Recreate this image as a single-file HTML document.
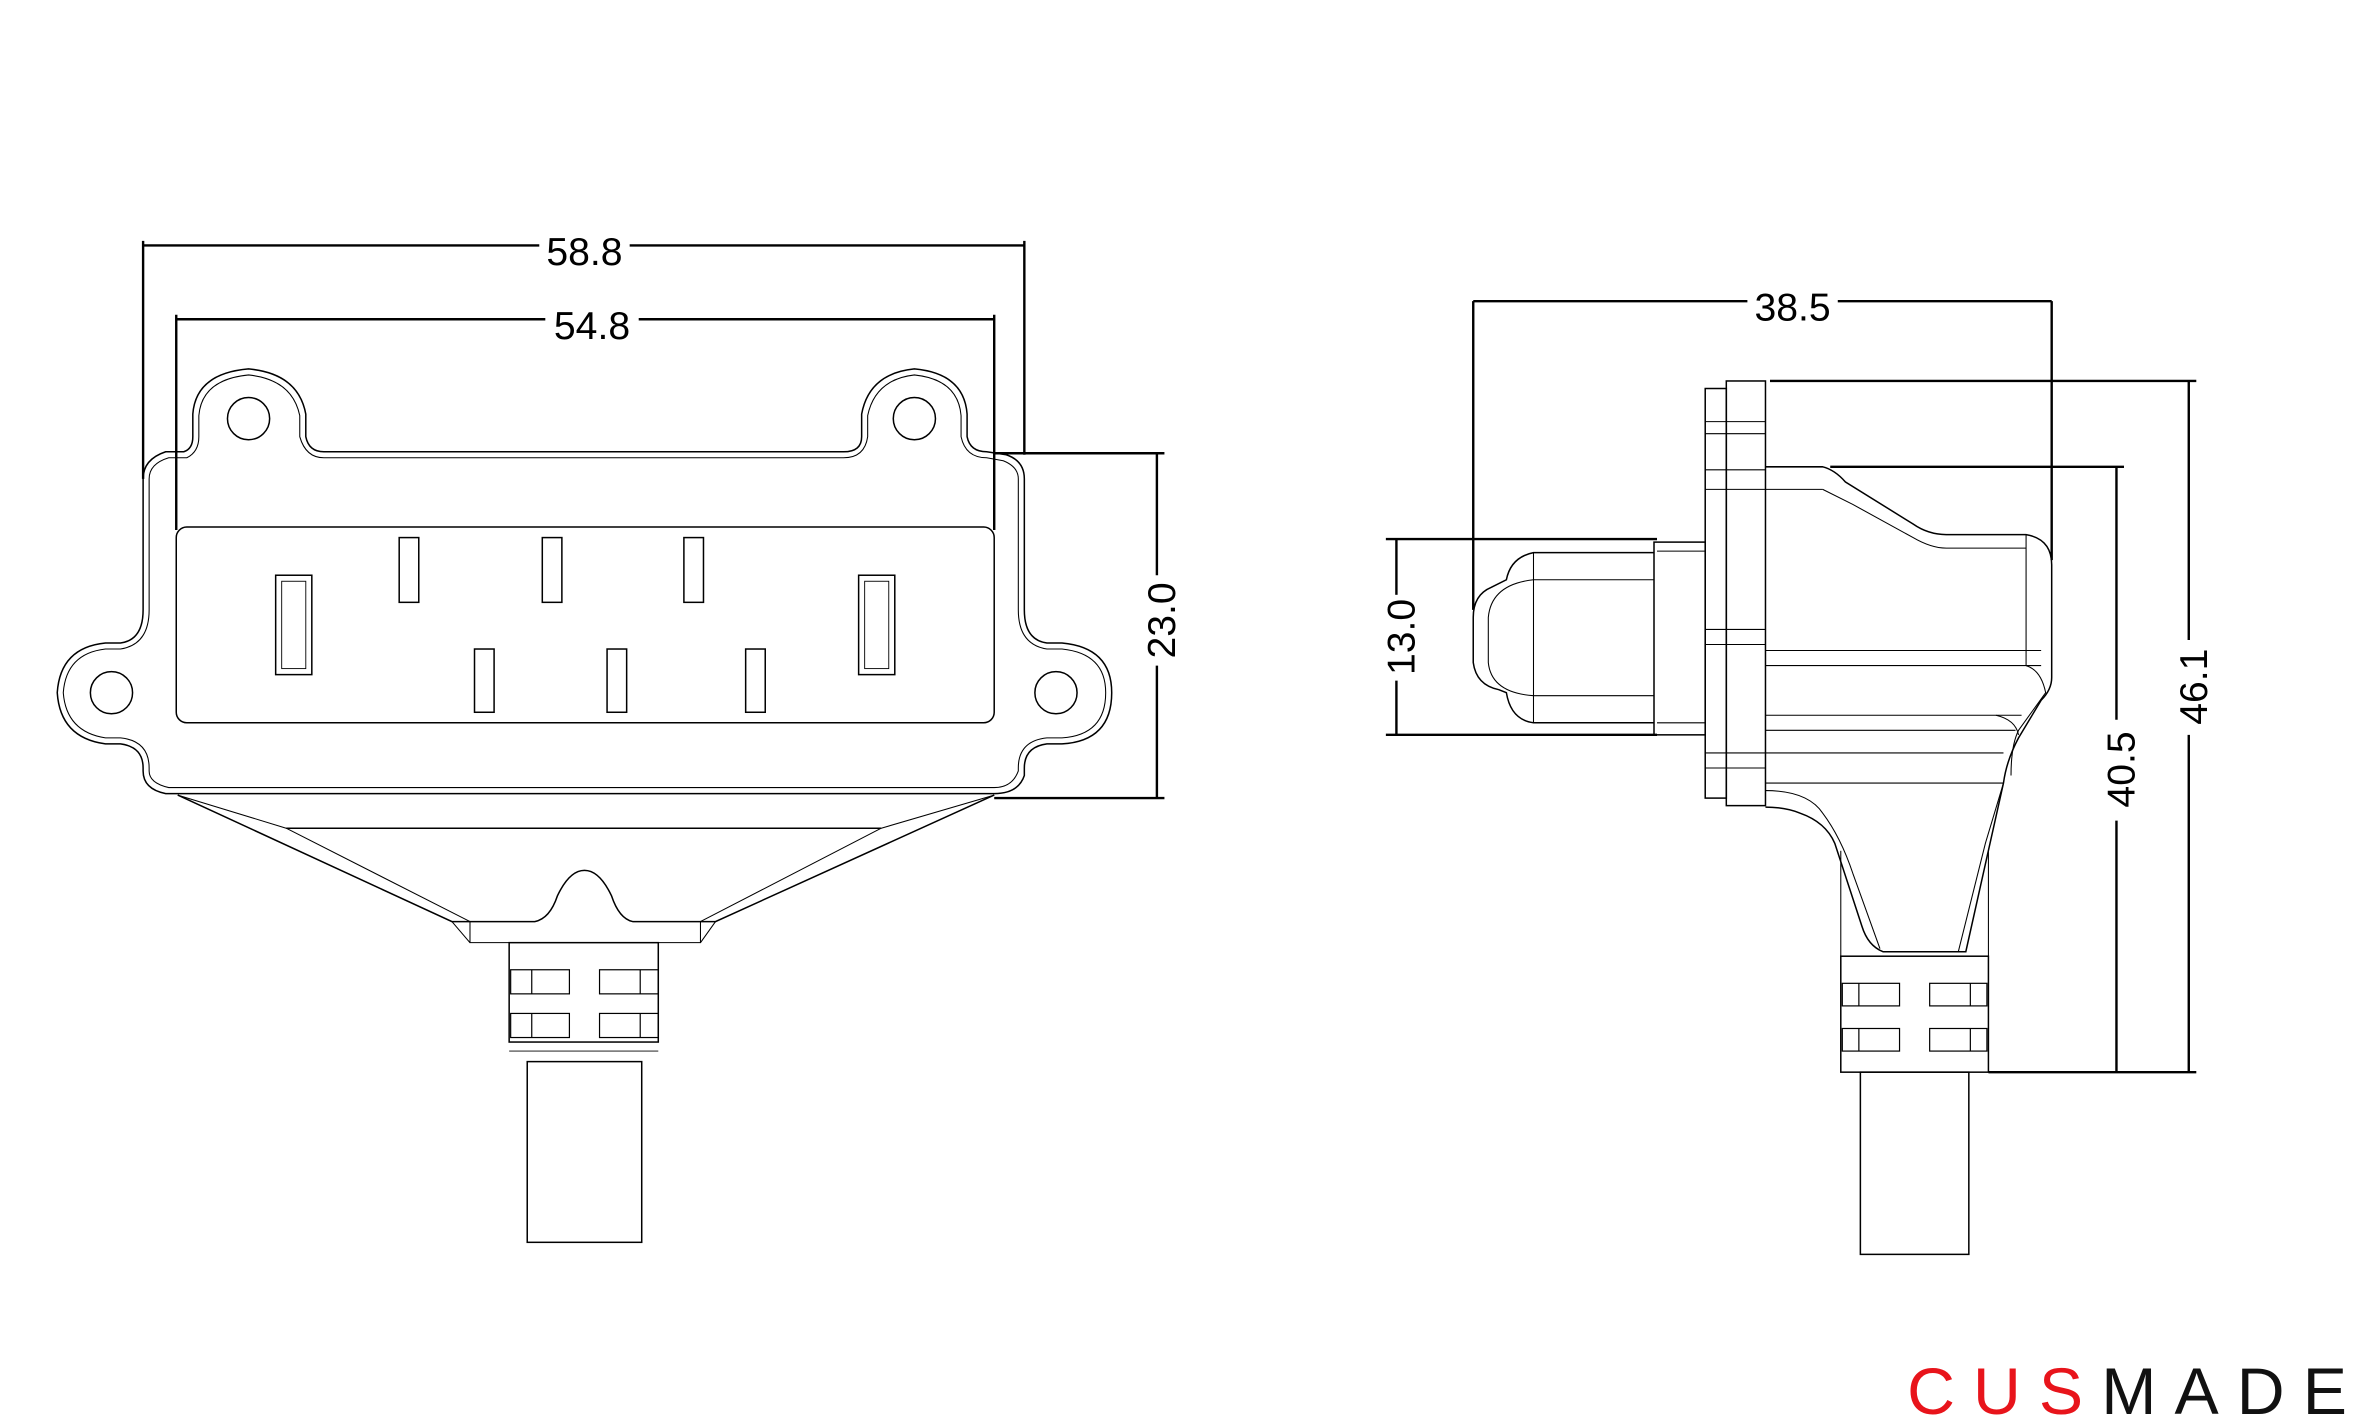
<!DOCTYPE html>
<html><head><meta charset="utf-8"><style>
html,body{margin:0;padding:0;background:#fff;}
svg{display:block}
text{font-family:"Liberation Sans",sans-serif;}
</style></head><body>
<svg width="2362" height="1417" viewBox="0 0 1568 941" preserveAspectRatio="none" xmlns="http://www.w3.org/2000/svg">
<g fill="none" stroke="#000" stroke-width="1">
<g stroke-width="1.6">
<line x1="95" y1="163" x2="358" y2="163"/><line x1="418" y1="163" x2="680" y2="163"/>
<line x1="95" y1="160" x2="95" y2="318"/><line x1="680" y1="160" x2="680" y2="302"/>
<line x1="117" y1="212" x2="362" y2="212"/><line x1="424" y1="212" x2="660" y2="212"/>
<line x1="117" y1="209" x2="117" y2="352"/><line x1="660" y1="209" x2="660" y2="352"/>
<line x1="768" y1="301" x2="768" y2="382"/><line x1="768" y1="442" x2="768" y2="530"/>
<line x1="660" y1="301" x2="773" y2="301"/><line x1="660" y1="530" x2="773" y2="530"/>
</g>
<path d="M95 318 Q95 305 110 300 L122 300 Q128 298 128 290 L128 275 Q130 248 165 245 Q198 248 203 275 L203 290 Q205 300 215 300 L560 300 Q572 300 572 290 L572 275 Q577 248 607 245 Q640 248 642 275 L642 290 Q644 300 655 300 L668 302 Q680 306 680 318 L680 405 Q680 425 695 427 L705 427 Q738 430 738 460 Q738 492 705 494 L695 494 Q680 496 680 510 L680 515 Q676 527 660 527 L110 527 Q95 524 95 512 L95 510 Q95 496 80 494 L70 494 Q40 490 38 460 Q40 430 70 427 L80 427 Q95 425 95 405 Z"/>
<path d="M99 318 Q99 308 112 304 L124 304 Q132 300 132 290 L132 276 Q134 252 165 249 Q194 252 199 276 L199 290 Q203 304 215 304 L560 304 Q574 304 576 290 L576 276 Q581 252 607 249 Q636 252 638 276 L638 290 Q641 304 655 304 L666 306 Q676 310 676 318 L676 405 Q676 428 695 431 L705 431 Q734 434 734 460 Q734 488 705 490 L695 490 Q676 492 676 510 L676 512 Q672 523 660 523 L112 523 Q99 520 99 512 L99 510 Q99 492 80 490 L70 490 Q44 486 42 460 Q44 434 70 431 L80 431 Q99 428 99 405 Z" stroke-width=".7"/>
<circle cx="165" cy="278" r="14"/><circle cx="607" cy="278" r="14"/>
<circle cx="74" cy="460" r="14"/><circle cx="701" cy="460" r="14"/>
<rect x="117" y="350" width="543" height="130" rx="7"/>
<g>
<rect x="183" y="382" width="24" height="66"/><rect x="187" y="386" width="16" height="58" stroke-width=".6"/>
<rect x="570" y="382" width="24" height="66"/><rect x="574" y="386" width="16" height="58" stroke-width=".6"/>
<rect x="265" y="357" width="13" height="43"/><rect x="360" y="357" width="13" height="43"/><rect x="454" y="357" width="13" height="43"/>
<rect x="315" y="431" width="13" height="42"/><rect x="403" y="431" width="13" height="42"/><rect x="495" y="431" width="13" height="42"/>
</g>
<path d="M118 528 L300 612 L355 612 Q365 610 370 595 Q378 578 388 578 Q398 578 406 595 Q411 610 420 612 L475 612 L660 528"/>
<path d="M190 550 L585 550"/>
<path d="M190 550 L312 612 M585 550 L465 612 M118 528 L190 550 M660 528 L585 550" stroke-width=".7"/>
<path d="M312 612 L312 626 L338 626 M465 612 L465 626 L437 626 M300 612 L312 626 M475 612 L465 626" stroke-width=".7"/>
<rect x="338" y="626" width="99" height="66"/>
<g stroke-width=".8">
<rect x="339" y="644" width="39" height="16"/><line x1="353" y1="644" x2="353" y2="660"/>
<rect x="398" y="644" width="39" height="16"/><line x1="425" y1="644" x2="425" y2="660"/>
<rect x="339" y="673" width="39" height="16"/><line x1="353" y1="673" x2="353" y2="689"/>
<rect x="398" y="673" width="39" height="16"/><line x1="425" y1="673" x2="425" y2="689"/>
</g>
<rect x="350" y="705" width="76" height="120"/>
<line x1="338" y1="698" x2="437" y2="698" stroke-width=".6"/>

<g stroke-width="1.6">
<line x1="978" y1="200" x2="1160" y2="200"/><line x1="1220" y1="200" x2="1362" y2="200"/>
<line x1="978" y1="200" x2="978" y2="405"/><line x1="1362" y1="200" x2="1362" y2="372"/>
<line x1="927" y1="358" x2="927" y2="395"/><line x1="927" y1="452" x2="927" y2="488"/>
<line x1="920" y1="358" x2="1100" y2="358"/><line x1="920" y1="488" x2="1100" y2="488"/>
<line x1="1405" y1="310" x2="1405" y2="478"/><line x1="1405" y1="545" x2="1405" y2="712"/>
<line x1="1453" y1="253" x2="1453" y2="425"/><line x1="1453" y1="488" x2="1453" y2="712"/>
<line x1="1175" y1="253" x2="1458" y2="253"/><line x1="1215" y1="310" x2="1410" y2="310"/>
<line x1="1320" y1="712" x2="1458" y2="712"/>
</g>
<rect x="1132" y="258" width="14" height="272"/>
<rect x="1146" y="253" width="26" height="282"/>
<g stroke-width=".7">
<line x1="1132" y1="280" x2="1172" y2="280"/><line x1="1132" y1="288" x2="1172" y2="288"/>
<line x1="1132" y1="312" x2="1172" y2="312"/><line x1="1132" y1="325" x2="1172" y2="325"/>
<line x1="1132" y1="418" x2="1172" y2="418"/><line x1="1132" y1="428" x2="1172" y2="428"/>
<line x1="1132" y1="500" x2="1172" y2="500"/><line x1="1132" y1="510" x2="1172" y2="510"/>
</g>
<path d="M1172 310 L1210 310 Q1218 312 1225 320 L1270 348 Q1280 355 1292 355 L1345 355 Q1362 358 1362 375 L1362 450 Q1362 458 1355 465 L1340 490 Q1332 505 1330 520 L1305 632 L1250 632 Q1240 628 1236 615 L1218 560 Q1212 546 1195 540 Q1185 536 1172 536"/>
<g stroke-width=".7">
<line x1="1172" y1="325" x2="1210" y2="325"/>
<path d="M1210 325 L1230 335 L1270 357 Q1282 364 1292 364 L1345 364"/>
<line x1="1172" y1="432" x2="1355" y2="432"/><line x1="1172" y1="442" x2="1355" y2="442"/>
<line x1="1172" y1="475" x2="1342" y2="475"/><line x1="1172" y1="485" x2="1338" y2="485"/>
<line x1="1172" y1="500" x2="1330" y2="500"/><line x1="1172" y1="520" x2="1330" y2="520"/>
<line x1="1345" y1="355" x2="1345" y2="442"/>
<path d="M1345 442 Q1355 445 1358 460 L1340 485 Q1335 495 1335 515"/>
<path d="M1325 475 Q1338 478 1340 488"/>
<path d="M1172 525 Q1200 525 1210 540 Q1222 556 1230 580 L1248 630"/>
<path d="M1330 520 L1318 560 L1300 632"/>
<line x1="1222" y1="565" x2="1222" y2="635"/><line x1="1320" y1="565" x2="1320" y2="635"/>
</g>
<rect x="1098" y="360" width="34" height="128"/>
<path d="M1098 367 L1018 367 Q1003 370 1000 385 L990 390 Q978 395 978 410 L978 440 Q980 455 995 458 L1000 460 Q1003 478 1018 480 L1098 480"/>
<g stroke-width=".7">
<line x1="1018" y1="367" x2="1018" y2="480"/>
<line x1="1018" y1="385" x2="1098" y2="385"/><line x1="1018" y1="462" x2="1098" y2="462"/>
<path d="M1018 385 Q990 388 988 410 L988 440 Q990 460 1018 462"/>
<line x1="1100" y1="366" x2="1132" y2="366"/><line x1="1100" y1="480" x2="1132" y2="480"/>
</g>
<rect x="1222" y="635" width="98" height="77"/>
<g stroke-width=".8">
<rect x="1223" y="653" width="38" height="15"/><line x1="1234" y1="653" x2="1234" y2="668"/>
<rect x="1281" y="653" width="38" height="15"/><line x1="1308" y1="653" x2="1308" y2="668"/>
<rect x="1223" y="683" width="38" height="15"/><line x1="1234" y1="683" x2="1234" y2="698"/>
<rect x="1281" y="683" width="38" height="15"/><line x1="1308" y1="683" x2="1308" y2="698"/>
</g>
<rect x="1235" y="712" width="72" height="121"/>
</g>
<g font-size="26" fill="#000">
<text x="388" y="176" text-anchor="middle">58.8</text>
<text x="393" y="225" text-anchor="middle">54.8</text>
<text x="1190" y="213" text-anchor="middle">38.5</text>
<text transform="translate(780,412) rotate(-90)" text-anchor="middle">23.0</text>
<text transform="translate(939,423) rotate(-90)" text-anchor="middle">13.0</text>
<text transform="translate(1417,511) rotate(-90)" text-anchor="middle">40.5</text>
<text transform="translate(1465,456) rotate(-90)" text-anchor="middle">46.1</text>
</g>
<text x="1266" y="939" font-size="44" letter-spacing="12" fill="#e8141b">CUS<tspan fill="#111">MADE</tspan></text>
</svg>
</body></html>
